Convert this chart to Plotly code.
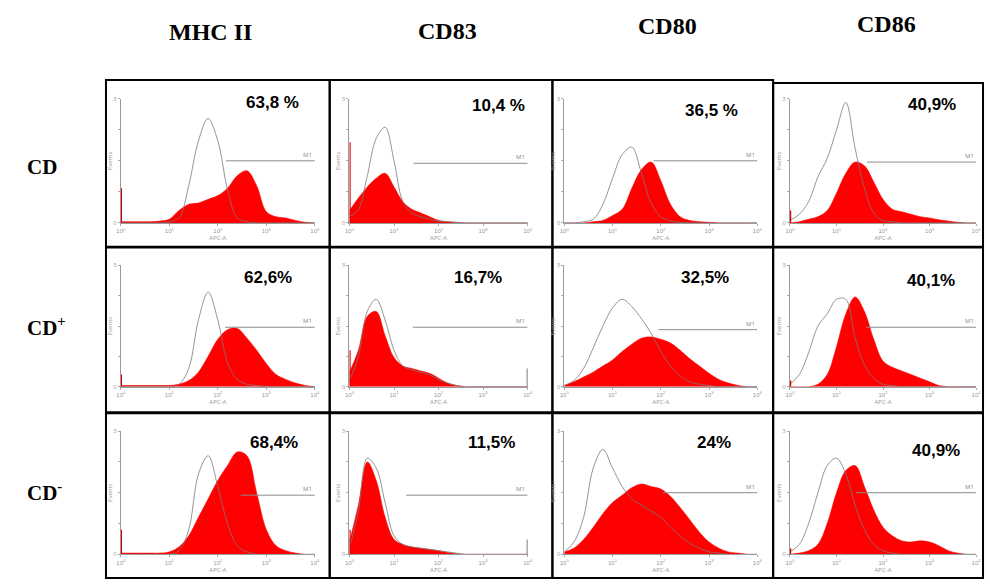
import plotly.graph_objects as go

# ---------------- data ----------------
MARKERS = ["MHC II", "CD83", "CD80", "CD86"]
POPULATIONS = ["CD", "CD<sup>+</sup>", "CD<sup>-</sup>"]

# log10 fluorescence bins (decades 10^0 .. 10^4)
DECADE_BINS = [0.0, 0.2, 0.4, 0.6, 0.8, 1.0, 1.2, 1.4, 1.6, 1.8, 2.0,
               2.2, 2.4, 2.6, 2.8, 3.0, 3.2, 3.4, 3.6, 3.8, 4.0]
TICK_LABELS = ["10<sup>0</sup>", "10<sup>1</sup>", "10<sup>2</sup>", "10<sup>3</sup>", "10<sup>4</sup>"]
TICK_VALUES = [0, 1, 2, 3, 4]

# relative event counts (fraction of axis height), isotype control (outline)
ctrl_mhc_cd = [0, 0, 0, 0, 0, 0.01, 0.04, 0.30, 0.66, 0.84, 0.66, 0.27, 0.04, 0.01, 0, 0, 0, 0, 0, 0, 0]
ctrl_cd83_cd = [0.05, 0.11, 0.38, 0.68, 0.77, 0.50, 0.17, 0.08, 0.05, 0.03, 0.015, 0.01, 0.005, 0, 0, 0, 0, 0, 0, 0, 0]
ctrl_cd80_cd = [0, 0, 0.01, 0.03, 0.15, 0.36, 0.55, 0.61, 0.40, 0.16, 0.05, 0.015, 0.005, 0, 0, 0, 0, 0, 0, 0, 0]
ctrl_cd86_cd = [0.02, 0.07, 0.17, 0.37, 0.52, 0.75, 0.97, 0.60, 0.28, 0.08, 0.02, 0.01, 0, 0, 0, 0, 0, 0, 0, 0, 0]
ctrl_mhc_pos = [0, 0, 0, 0, 0, 0, 0.02, 0.15, 0.55, 0.78, 0.55, 0.20, 0.06, 0.02, 0.01, 0, 0, 0, 0, 0, 0]
ctrl_cd83_pos = [0.05, 0.25, 0.62, 0.72, 0.55, 0.30, 0.17, 0.14, 0.12, 0.10, 0.06, 0.03, 0.01, 0, 0, 0, 0, 0, 0, 0, 0]
ctrl_cd80_pos = [0.01, 0.05, 0.15, 0.32, 0.50, 0.65, 0.72, 0.66, 0.56, 0.44, 0.29, 0.17, 0.09, 0.04, 0.02, 0.01, 0, 0, 0, 0, 0]
ctrl_cd86_pos = [0.02, 0.10, 0.28, 0.50, 0.60, 0.72, 0.72, 0.40, 0.18, 0.07, 0.02, 0.01, 0, 0, 0, 0, 0, 0, 0, 0, 0]
ctrl_mhc_neg = [0, 0, 0, 0, 0, 0, 0.03, 0.20, 0.65, 0.80, 0.55, 0.25, 0.07, 0.02, 0, 0, 0, 0, 0, 0, 0]
ctrl_cd83_neg = [0.05, 0.35, 0.78, 0.70, 0.42, 0.15, 0.08, 0.06, 0.05, 0.04, 0.03, 0.02, 0.01, 0, 0, 0, 0, 0, 0, 0, 0]
ctrl_cd80_neg = [0.02, 0.10, 0.30, 0.70, 0.85, 0.70, 0.55, 0.45, 0.40, 0.35, 0.30, 0.22, 0.15, 0.09, 0.05, 0.02, 0.01, 0, 0, 0, 0]
ctrl_cd86_neg = [0.02, 0.08, 0.25, 0.50, 0.72, 0.78, 0.65, 0.40, 0.20, 0.08, 0.03, 0.01, 0, 0, 0, 0, 0, 0, 0, 0, 0]

# relative event counts, stained sample (red filled)
red_mhc_cd = [0.01, 0.01, 0.01, 0.01, 0.015, 0.03, 0.10, 0.15, 0.16, 0.19, 0.22, 0.28, 0.38, 0.42, 0.30, 0.09, 0.05, 0.04, 0.02, 0.005, 0]
red_cd83_cd = [0.10, 0.20, 0.29, 0.36, 0.40, 0.29, 0.17, 0.11, 0.08, 0.05, 0.02, 0.01, 0.003, 0, 0, 0, 0, 0, 0, 0, 0]
red_cd80_cd = [0, 0, 0, 0.01, 0.02, 0.06, 0.11, 0.28, 0.43, 0.49, 0.34, 0.15, 0.05, 0.02, 0.01, 0.005, 0, 0, 0, 0, 0]
red_cd86_cd = [0, 0.01, 0.03, 0.05, 0.10, 0.24, 0.40, 0.49, 0.46, 0.33, 0.19, 0.11, 0.09, 0.07, 0.05, 0.04, 0.025, 0.015, 0.005, 0, 0]
red_mhc_pos = [0.01, 0.01, 0.01, 0.01, 0.01, 0.01, 0.02, 0.05, 0.12, 0.25, 0.39, 0.47, 0.48, 0.40, 0.30, 0.19, 0.10, 0.06, 0.03, 0.01, 0]
red_cd83_pos = [0.12, 0.30, 0.58, 0.62, 0.42, 0.24, 0.17, 0.15, 0.13, 0.11, 0.07, 0.03, 0.01, 0, 0, 0, 0, 0, 0, 0, 0]
red_cd80_pos = [0.01, 0.04, 0.08, 0.12, 0.17, 0.22, 0.29, 0.35, 0.40, 0.41, 0.39, 0.36, 0.30, 0.23, 0.17, 0.11, 0.06, 0.03, 0.01, 0, 0]
red_cd86_pos = [0, 0, 0, 0.02, 0.10, 0.33, 0.60, 0.74, 0.62, 0.39, 0.21, 0.16, 0.13, 0.10, 0.07, 0.04, 0.01, 0, 0, 0, 0]
red_mhc_neg = [0.01, 0.01, 0.01, 0.01, 0.01, 0.02, 0.06, 0.15, 0.30, 0.45, 0.60, 0.72, 0.83, 0.80, 0.50, 0.20, 0.07, 0.03, 0.01, 0, 0]
red_cd83_neg = [0.10, 0.40, 0.75, 0.60, 0.30, 0.12, 0.08, 0.06, 0.05, 0.04, 0.03, 0.015, 0.005, 0, 0, 0, 0, 0, 0, 0, 0]
red_cd80_neg = [0.02, 0.05, 0.12, 0.22, 0.33, 0.42, 0.48, 0.54, 0.57, 0.55, 0.53, 0.47, 0.38, 0.28, 0.18, 0.10, 0.05, 0.02, 0.01, 0, 0]
red_cd86_neg = [0, 0.01, 0.03, 0.08, 0.25, 0.50, 0.68, 0.72, 0.55, 0.36, 0.22, 0.15, 0.11, 0.10, 0.11, 0.10, 0.07, 0.03, 0.01, 0, 0]

CONTROLS = [ctrl_mhc_cd, ctrl_cd83_cd, ctrl_cd80_cd, ctrl_cd86_cd,
            ctrl_mhc_pos, ctrl_cd83_pos, ctrl_cd80_pos, ctrl_cd86_pos,
            ctrl_mhc_neg, ctrl_cd83_neg, ctrl_cd80_neg, ctrl_cd86_neg]
SAMPLES = [red_mhc_cd, red_cd83_cd, red_cd80_cd, red_cd86_cd,
           red_mhc_pos, red_cd83_pos, red_cd80_pos, red_cd86_pos,
           red_mhc_neg, red_cd83_neg, red_cd80_neg, red_cd86_neg]

# events piled up in the first / last channel
LEFT_SPIKE = [0.28, 0.65, 0.0, 0.10, 0.10, 0.30, 0.0, 0.05, 0.20, 0.20, 0.0, 0.05]
RIGHT_SPIKE = [0, 0, 0, 0, 0, 0.15, 0, 0, 0, 0.12, 0, 0]

# M1 gate: start decade and drawn height
M1_START = [2.17, 1.44, 1.85, 1.65, 2.15, 1.42, 1.95, 1.64, 2.47, 1.27, 2.05, 1.42]
M1_LEVEL = [0.50, 0.48, 0.50, 0.49, 0.49, 0.49, 0.47, 0.49, 0.48, 0.48, 0.50, 0.50]

PERCENTS = ["63,8 %", "10,4 %", "36,5 %", "40,9%",
            "62,6%", "16,7%", "32,5%", "40,1%",
            "68,4%", "11,5%", "24%", "40,9%"]

# ---------------- layout (pixels) ----------------
W, H = 990, 584
COL_PLOT_X = [(117, 313), (348, 528), (565, 760), (793, 981)]
ROW_PLOT_Y = [(96, 222), (265, 388), (433, 558)]
COL_BOX_X = [(102, 328), (328, 553), (553, 776), (776, 988)]
ROW_BOX_Y = [(77, 246), (247, 414), (415, 582)]
PCT_POS = [(270, 100), (499, 103), (714, 108), (936, 102),
           (266, 277), (478, 277), (707, 277), (935, 280),
           (272, 445), (491, 445), (716, 445), (941, 453)]
HEADER_POS = [(208, 28), (447, 27), (669, 22), (890, 20)]
ROWLABEL_POS = [(20, 165), (20, 327), (20, 494)]


def fx(x):
    return x / W


def fy(y):
    return 1 - y / H


fig = go.Figure()
layout = dict(width=W, height=H, margin=dict(l=0, r=0, t=0, b=0),
              paper_bgcolor="white", plot_bgcolor="white", showlegend=False)
annotations = []
shapes = []

for i in range(12):
    r, c = divmod(i, 4)
    n = i + 1
    xk = "x" if n == 1 else f"x{n}"
    yk = "y" if n == 1 else f"y{n}"
    x0, x1 = COL_PLOT_X[c]
    y0, y1 = ROW_PLOT_Y[r]
    layout["xaxis" if n == 1 else f"xaxis{n}"] = dict(
        domain=[fx(x0), fx(x1)], range=[0, 4], anchor=yk,
        showline=True, linecolor="#9a9a9a", linewidth=1, showgrid=False, zeroline=False,
        tickvals=TICK_VALUES, ticktext=TICK_LABELS, ticks="outside", ticklen=2,
        tickcolor="#aaaaaa", tickfont=dict(size=6, color="#999999", family="Arial"),
        title=dict(text="APC-A", font=dict(size=6, color="#999999"), standoff=0))
    layout["yaxis" if n == 1 else f"yaxis{n}"] = dict(
        domain=[fy(y1), fy(y0)], range=[0, 1.0], anchor=xk,
        showline=True, linecolor="#9a9a9a", linewidth=1, showgrid=False, zeroline=False,
        tickvals=[0, 0.25, 0.5, 0.75, 1.0], ticktext=["0", "", "", "", "3"],
        ticks="outside", ticklen=2, tickcolor="#aaaaaa",
        tickfont=dict(size=6, color="#999999"),
        title=dict(text="Events", font=dict(size=6, color="#999999"), standoff=0))

    fig.add_trace(go.Scatter(x=DECADE_BINS, y=SAMPLES[i], xaxis=xk, yaxis=yk,
                             mode="lines", line=dict(color="#ff0000", width=0.6, shape="spline"),
                             fill="tozeroy", fillcolor="#ff0000", hoverinfo="skip"))
    fig.add_trace(go.Scatter(x=DECADE_BINS, y=CONTROLS[i], xaxis=xk, yaxis=yk,
                             mode="lines", line=dict(color="#7a7a7a", width=0.8, shape="spline"),
                             hoverinfo="skip"))
    if LEFT_SPIKE[i] > 0:
        fig.add_trace(go.Scatter(x=[0.01, 0.01], y=[0, LEFT_SPIKE[i]], xaxis=xk, yaxis=yk,
                                 mode="lines", line=dict(color="#e00000", width=1.5), hoverinfo="skip"))
    if RIGHT_SPIKE[i] > 0:
        fig.add_trace(go.Scatter(x=[3.99, 3.99], y=[0, RIGHT_SPIKE[i]], xaxis=xk, yaxis=yk,
                                 mode="lines", line=dict(color="#555555", width=1), hoverinfo="skip"))
    fig.add_trace(go.Scatter(x=[M1_START[i], 4.0], y=[M1_LEVEL[i], M1_LEVEL[i]], xaxis=xk, yaxis=yk,
                             mode="lines", line=dict(color="#8c8c8c", width=1), hoverinfo="skip"))
    annotations.append(dict(x=3.85, y=M1_LEVEL[i], xref=xk, yref=yk, text="M1", showarrow=False,
                            yanchor="bottom", font=dict(size=6, color="#888888")))

    px_, py_ = PCT_POS[i]
    annotations.append(dict(x=fx(px_), y=fy(py_), xref="paper", yref="paper",
                            text=f"<b>{PERCENTS[i]}</b>", showarrow=False,
                            xanchor="center", yanchor="middle",
                            font=dict(size=17, color="black", family="Liberation Sans, Arial")))

    bx0, bx1 = COL_BOX_X[c]
    by0, by1 = ROW_BOX_Y[r]
    if r == 0 and c == 3:
        by0 = 80
    shapes.append(dict(type="rect", xref="paper", yref="paper",
                       x0=fx(bx0), x1=fx(bx1), y0=fy(by1), y1=fy(by0),
                       line=dict(color="black", width=2)))

for j, name in enumerate(MARKERS):
    hx, hy = HEADER_POS[j]
    annotations.append(dict(x=fx(hx), y=fy(hy), xref="paper", yref="paper",
                            text=f"<b>{name}</b>", showarrow=False, xanchor="center", yanchor="middle",
                            font=dict(size=24, color="black", family="Liberation Serif, Times New Roman")))
for j, name in enumerate(POPULATIONS):
    lx, ly = ROWLABEL_POS[j]
    annotations.append(dict(x=fx(lx), y=fy(ly), xref="paper", yref="paper",
                            text=f"<b>{name}</b>", showarrow=False, xanchor="left", yanchor="middle",
                            font=dict(size=21, color="black", family="Liberation Serif, Times New Roman")))

layout["annotations"] = annotations
layout["shapes"] = shapes
fig.update_layout(**layout)
fig.write_html("out.html", config={"displayModeBar": False},
               post_script="document.body.style.margin='0';document.body.style.overflow='hidden';")
